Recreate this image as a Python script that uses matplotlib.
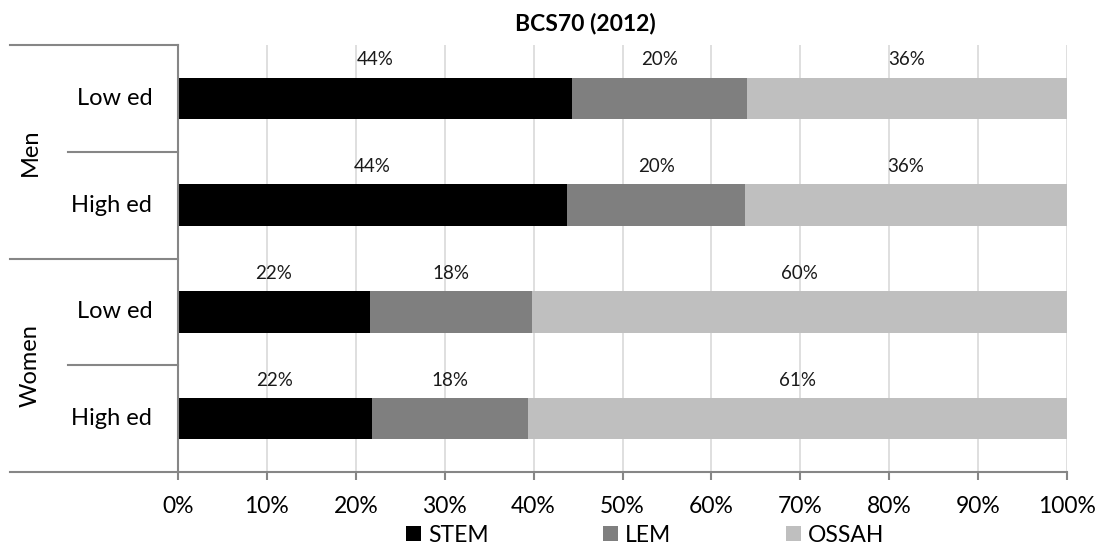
import matplotlib.pyplot as plt
from matplotlib.patches import Patch
from matplotlib.transforms import blended_transform_factory

plt.rcParams['font.family'] = ['Lato', 'DejaVu Sans']

# shares by field, rows: Men low/high ed, Women low/high ed
groups = ['Men', 'Women']
levels = ['Low ed', 'High ed']
fields = ['STEM', 'LEM', 'OSSAH']
stem = [44.3, 43.8, 21.6, 21.8]
lem = [19.7, 20.0, 18.2, 17.6]
ossah = [36.0, 36.2, 60.2, 60.6]
colors = ['#000000', '#7f7f7f', '#bfbfbf']
xticks = list(range(0, 101, 10))

W, H = 1106, 547
fig = plt.figure(figsize=(W / 100, H / 100), dpi=100)
ax = fig.add_axes([178 / W, (H - 472) / H, 889 / W, 427 / H])

rows = list(range(len(groups) * len(levels)))
left = [0] * len(rows)
for name, vals, c in zip(fields, [stem, lem, ossah], colors):
    ax.barh(rows, vals, left=left, height=0.39, color=c, zorder=2)
    for r, v, l in zip(rows, vals, left):
        ax.text(l + v / 2, r - 0.36, f'{v:.0f}%', ha='center', va='center',
                fontsize=13.5, color='#1a1a1a')
    left = [a + b for a, b in zip(left, vals)]

ax.set_xlim(0, 100)
ax.set_ylim(3.5, -0.5)
ax.set_xticks(xticks)
ax.set_xticklabels([f'{t}%' for t in xticks], fontsize=16.5)
ax.set_yticks([])
ax.tick_params(axis='x', length=6, width=1.5, color='#868686', pad=11)
ax.set_axisbelow(True)
ax.xaxis.grid(color='#d9d9d9', lw=1.2)
for s in ['top', 'right']:
    ax.spines[s].set_visible(False)
for s in ['left', 'bottom']:
    ax.spines[s].set_color('#868686')
    ax.spines[s].set_linewidth(1.5)

# two-level category axis on the left
tr = blended_transform_factory(ax.transAxes, ax.transData)
for y, x0 in [(-0.5, -0.189), (0.5, -0.124), (1.5, -0.189), (2.5, -0.124), (3.5, -0.189)]:
    ax.plot([x0, 0], [y, y], color='#868686', lw=1.5, transform=tr, clip_on=False)
for i, g in enumerate(groups):
    ax.text(-0.1665, i * 2 + 0.5, g, rotation=90, ha='center', va='center',
            fontsize=17, transform=tr)
    for j, lv in enumerate(levels):
        ax.text(-0.029, i * 2 + j, lv, ha='right', va='center', fontsize=17,
                transform=tr)

fig.text(585 / W, 1 - 24 / H, 'BCS70 (2012)', ha='center', va='center',
         fontsize=16.5, fontweight='bold')

handles = [Patch(facecolor=c, edgecolor='none') for c in colors]
fig.legend(handles, fields, loc='center', bbox_to_anchor=(645 / W, 1 - 535 / H),
           ncol=3, frameon=False, fontsize=16.5, handlelength=0.65, handleheight=0.65,
           handletextpad=0.3, columnspacing=5.0, borderpad=0)

fig.savefig('out.png', dpi=100)
